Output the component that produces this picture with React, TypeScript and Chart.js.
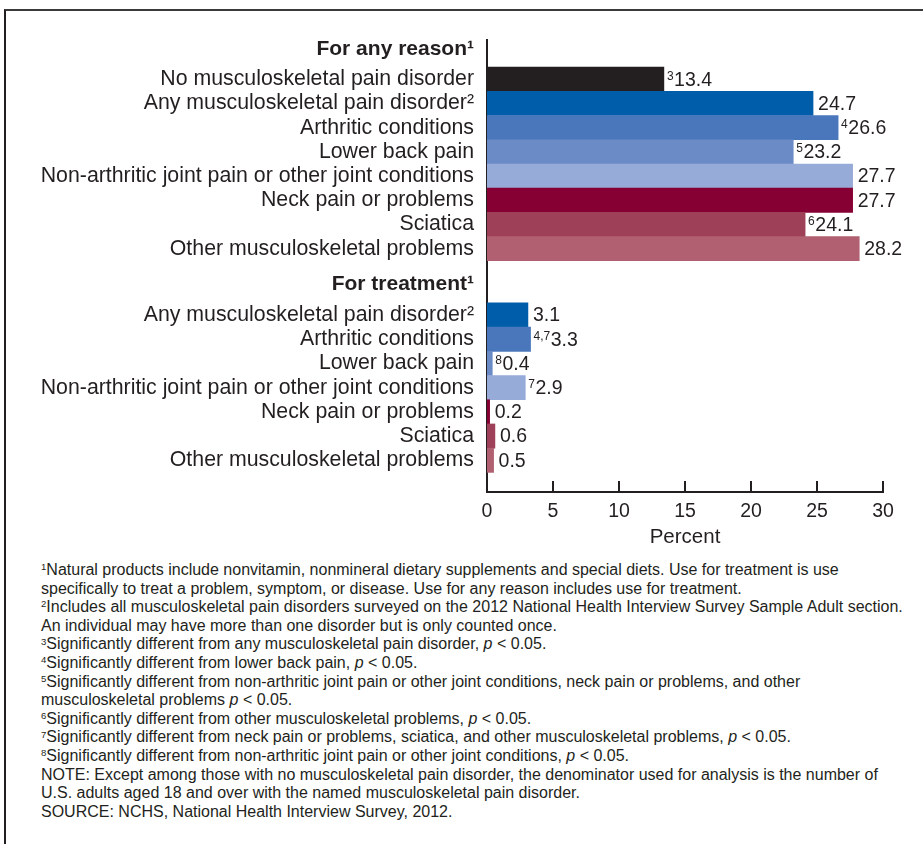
import React, { useEffect, useRef } from "react";
import { Chart, registerables } from "chart.js";

Chart.register(...registerables);

// ---------- data ----------
const ANY_REASON_HEADER = "For any reason¹";
const ANY_REASON_LABELS = [
  "No musculoskeletal pain disorder",
  "Any musculoskeletal pain disorder²",
  "Arthritic conditions",
  "Lower back pain",
  "Non-arthritic joint pain or other joint conditions",
  "Neck pain or problems",
  "Sciatica",
  "Other musculoskeletal problems",
];
const ANY_REASON_VALUES = [13.4, 24.7, 26.6, 23.2, 27.7, 27.7, 24.1, 28.2];
const ANY_REASON_NOTES = ["3", "", "4", "5", "", "", "6", ""];

const TREATMENT_HEADER = "For treatment¹";
const TREATMENT_LABELS = [
  "Any musculoskeletal pain disorder²",
  "Arthritic conditions",
  "Lower back pain",
  "Non-arthritic joint pain or other joint conditions",
  "Neck pain or problems",
  "Sciatica",
  "Other musculoskeletal problems",
];
const TREATMENT_VALUES = [3.1, 3.3, 0.4, 2.9, 0.2, 0.6, 0.5];
const TREATMENT_NOTES = ["", "4,7", "8", "7", "", "", ""];

const X_TICKS = [0, 5, 10, 15, 20, 25, 30];
const X_TITLE = "Percent";

// ---------- styles ----------
const ANY_REASON_COLORS = ["#231f20", "#005daa", "#4a77bb", "#6a8bc6", "#97abd8", "#870033", "#9e4058", "#b06070"];
const TREATMENT_COLORS = ["#005daa", "#4a77bb", "#6a8bc6", "#97abd8", "#870033", "#9e4058", "#b06070"];
const TEXT = "#231f20";
const FONT = '"Liberation Sans", Arial, Helvetica, sans-serif';

// layout (in row units)
const HEADER_LEAD = 1.26;
const GROUP_GAP = 1.48;

export default function App() {
  const canvasRef = useRef<HTMLCanvasElement | null>(null);

  useEffect(() => {
    if (!canvasRef.current) return;

    const anyPos = ANY_REASON_LABELS.map((_, i) => HEADER_LEAD + i);
    const header2 = anyPos[anyPos.length - 1] + GROUP_GAP;
    const treatPos = TREATMENT_LABELS.map((_, i) => header2 + HEADER_LEAD + i);

    const tickPositions = [0, ...anyPos, header2, ...treatPos];
    const tickLabels = [ANY_REASON_HEADER, ...ANY_REASON_LABELS, TREATMENT_HEADER, ...TREATMENT_LABELS];
    const headerIdx = [0, ANY_REASON_LABELS.length + 1];

    const values = [...ANY_REASON_VALUES, ...TREATMENT_VALUES];
    const notes = [...ANY_REASON_NOTES, ...TREATMENT_NOTES];
    const positions = [...anyPos, ...treatPos];
    const colors = [...ANY_REASON_COLORS, ...TREATMENT_COLORS];

    const valueLabels = {
      id: "valueLabels",
      afterDatasetsDraw(chart: any) {
        const ctx = chart.ctx;
        const meta = chart.getDatasetMeta(0);
        meta.data.forEach((bar: any, i: number) => {
          const note = notes[i];
          let x = bar.x;
          const y = bar.y;
          ctx.save();
          ctx.fillStyle = TEXT;
          ctx.textAlign = "left";
          if (note) {
            x += 3;
            ctx.font = `12px ${FONT}`;
            ctx.textBaseline = "alphabetic";
            ctx.fillText(note, x, y + 0.5);
            x += ctx.measureText(note).width + 0.5;
          } else {
            x += 5;
          }
          ctx.font = `19.5px ${FONT}`;
          ctx.textBaseline = "middle";
          ctx.fillText(values[i].toFixed(1), x, y + 1);
          ctx.restore();
        });
      },
    };

    const inwardTicks = {
      id: "inwardTicks",
      afterDraw(chart: any) {
        const { ctx, chartArea } = chart;
        const xs = chart.scales.x;
        ctx.save();
        ctx.strokeStyle = TEXT;
        ctx.lineWidth = 2;
        xs.ticks.forEach((t: any) => {
          const px = Math.round(xs.getPixelForValue(t.value));
          ctx.beginPath();
          ctx.moveTo(px, chartArea.bottom);
          ctx.lineTo(px, chartArea.bottom - 11);
          ctx.stroke();
        });
        ctx.restore();
      },
    };

    Chart.defaults.font.family = FONT;
    Chart.defaults.color = TEXT;

    const chart = new Chart(canvasRef.current, {
      type: "bar",
      data: {
        datasets: [
          {
            label: X_TITLE,
            data: values.map((v, i) => ({ x: v, y: positions[i] })),
            backgroundColor: colors,
            borderWidth: 0,
            barPercentage: 1,
            categoryPercentage: 1,
          } as any,
        ],
      },
      options: {
        indexAxis: "y",
        animation: false,
        responsive: false,
        maintainAspectRatio: false,
        devicePixelRatio: 1,
        layout: { padding: { left: 0, right: 40, top: 40, bottom: 8 } },
        plugins: { legend: { display: false }, tooltip: { enabled: false }, title: { display: false } },
        scales: {
          y: {
            type: "linear",
            reverse: true,
            offset: false,
            min: -0.36,
            max: 18.31,
            afterBuildTicks: (s: any) => {
              s.ticks = tickPositions.map((v) => ({ value: v }));
            },
            afterFit: (s: any) => {
              s.width = 487;
            },
            grid: { display: false, drawTicks: false, offset: false },
            border: { display: true, color: TEXT, width: 2 },
            ticks: {
              autoSkip: false,
              padding: 13,
              color: TEXT,
              callback: (_v: any, i: number) => tickLabels[i],
              font: (c: any) =>
                headerIdx.includes(c.index)
                  ? { size: 21, weight: "bold", family: FONT }
                  : { size: 21.3, weight: "normal", family: FONT },
            },
          },
          x: {
            type: "linear",
            min: 0,
            max: 30,
            offset: false,
            afterBuildTicks: (s: any) => {
              s.ticks = X_TICKS.map((v) => ({ value: v }));
            },
            afterFit: (s: any) => {
              s.height = 60;
            },
            grid: { display: false, drawTicks: false },
            border: { display: true, color: TEXT, width: 2 },
            ticks: { padding: 8, color: TEXT, font: { size: 19.5, family: FONT }, maxRotation: 0 },
            title: {
              display: true,
              text: X_TITLE,
              color: TEXT,
              font: { size: 20.5, family: FONT },
              padding: { top: 0, bottom: 2 },
            },
          },
        },
      } as any,
      plugins: [valueLabels, inwardTicks],
    });
    return () => chart.destroy();
  }, []);

  const sup = (t: string) => (
    <span style={{ fontSize: "0.6em", position: "relative", top: "-0.5em", lineHeight: 0 }}>{t}</span>
  );
  const p = <i>p</i>;

  return (
    <div style={{ position: "absolute", left: 0, top: 0, width: 923, height: 844, overflow: "hidden", background: "#fff" }}>
      <div
        style={{
          position: "absolute",
          left: 4,
          top: 9,
          width: 1000,
          height: 1000,
          borderTop: "2px solid #3a3a3a",
          borderLeft: "2px solid #231f20",
          boxSizing: "border-box",
        }}
      />
      <canvas ref={canvasRef} width={923} height={560} style={{ position: "absolute", left: 0, top: 0, width: 923, height: 560 }} />
      <div
        style={{
          position: "absolute",
          left: 41,
          top: 561,
          fontFamily: FONT,
          fontSize: 16,
          lineHeight: "18.6px",
          color: TEXT,
          whiteSpace: "nowrap",
        }}
      >
        <div>{sup("1")}Natural products include nonvitamin, nonmineral dietary supplements and special diets. Use for treatment is use</div>
        <div>specifically to treat a problem, symptom, or disease. Use for any reason includes use for treatment.</div>
        <div>{sup("2")}Includes all musculoskeletal pain disorders surveyed on the 2012 National Health Interview Survey Sample Adult section.</div>
        <div>An individual may have more than one disorder but is only counted once.</div>
        <div>{sup("3")}Significantly different from any musculoskeletal pain disorder, {p} &lt; 0.05.</div>
        <div>{sup("4")}Significantly different from lower back pain, {p} &lt; 0.05.</div>
        <div>{sup("5")}Significantly different from non-arthritic joint pain or other joint conditions, neck pain or problems, and other</div>
        <div>musculoskeletal problems {p} &lt; 0.05.</div>
        <div>{sup("6")}Significantly different from other musculoskeletal problems, {p} &lt; 0.05.</div>
        <div>{sup("7")}Significantly different from neck pain or problems, sciatica, and other musculoskeletal problems, {p} &lt; 0.05.</div>
        <div>{sup("8")}Significantly different from non-arthritic joint pain or other joint conditions, {p} &lt; 0.05.</div>
        <div>NOTE: Except among those with no musculoskeletal pain disorder, the denominator used for analysis is the number of</div>
        <div>U.S. adults aged 18 and over with the named musculoskeletal pain disorder.</div>
        <div>SOURCE: NCHS, National Health Interview Survey, 2012.</div>
      </div>
    </div>
  );
}
